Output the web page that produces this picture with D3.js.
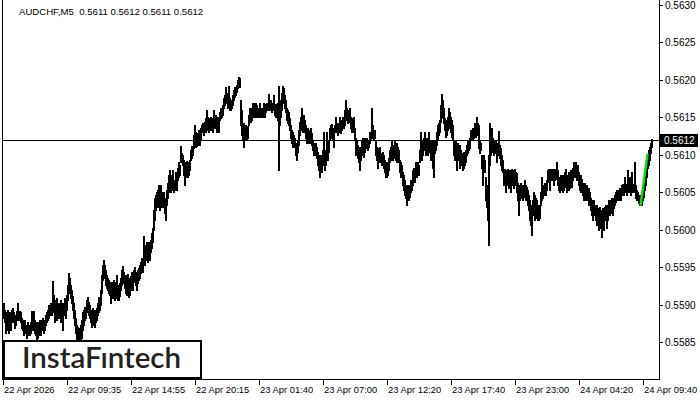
<!DOCTYPE html>
<html>
<head>
<meta charset="utf-8">
<script src="https://d3js.org/d3.v7.min.js"></script>
<style>
body{margin:0;background:#fff;}
svg{display:block;font-family:"Liberation Sans",Arial,sans-serif;}
</style>
</head>
<body>
<div id="chart"></div>
<script>
// Chart values
var symbol = "AUDCHF,M5";
var lastBar = [0.5611, 0.5612, 0.5611, 0.5612]; // open high low close
var bidPrice = 0.5612;
var priceTicks = [0.5585, 0.5590, 0.5595, 0.5600, 0.5605, 0.5610, 0.5615, 0.5620, 0.5625, 0.5630];
var timeLabels = ["22 Apr 2026", "22 Apr 09:35", "22 Apr 14:55", "22 Apr 20:15", "23 Apr 01:40",
	"23 Apr 07:00", "23 Apr 12:20", "23 Apr 17:40", "23 Apr 23:00", "24 Apr 04:20", "24 Apr 09:40"];
var timeLabelBars = [0, 64, 128, 192, 256, 320, 384, 448, 512, 576, 640];

// bar highs / lows, in points (0.00001) above basePrice
var basePrice = 0.5580;
var highs = [
	102,93,90,86,93,86,90,82,93,95, 90,82,86,91,102,91,91,90,82,79,
	77,79,73,73,77,73,72,77,91,82, 91,79,73,77,73,77,79,73,79,82,
	79,77,86,90,93,100,98,102,102,131, 113,106,102,109,102,100,102,106,102,100,
	102,109,102,113,126,142,136,126,119,112, 102,93,82,73,70,66,69,73,79,90,
	93,97,95,106,110,104,100,93,90,95, 90,93,90,95,102,110,106,119,139,153,
	160,153,146,139,136,133,130,126,130,129, 133,126,130,139,126,122,129,136,146,152,
	144,139,139,133,141,136,130,138,144,139, 146,150,144,139,146,149,153,157,162,160,
	191,180,176,183,180,183,178,186,196,202, 226,242,246,250,253,260,250,260,250,246,
	250,242,233,253,262,273,280,266,273,280, 266,266,277,273,282,290,286,312,302,300,
	293,290,286,292,286,290,293,306,312,310, 326,340,330,326,329,333,330,336,340,342,
	340,344,349,360,350,346,349,350,346,349, 360,350,353,346,350,349,357,362,360,366,
	376,380,390,382,380,392,376,369,373,380, 386,390,389,393,400,404,402,373,360,340,
	342,336,340,333,338,353,362,360,362,369, 369,366,369,366,362,360,369,362,360,362,
	369,360,368,369,368,381,369,373,369,369, 380,368,368,366,369,392,360,373,382,392,
	389,380,373,362,360,357,349,340,333,330, 326,322,316,313,320,333,344,350,362,350,
	353,346,340,333,336,330,333,336,329,320, 316,313,316,310,304,300,296,300,293,306,
	330,300,306,330,309,320,336,340,341,336, 333,340,350,342,340,342,350,340,346,350,
	349,360,373,362,360,357,362,350,349,346, 350,336,322,320,313,310,306,310,320,322,
	316,322,320,322,316,320,330,328,362,340, 330,333,320,310,306,309,310,302,300,304,
	300,293,290,286,290,296,306,310,320,310, 313,320,313,316,310,306,293,290,286,277,
	273,266,260,257,260,256,260,266,266,280, 282,277,290,286,290,286,306,330,310,320,
	322,330,320,322,316,330,320,313,320,320, 313,320,316,330,340,342,346,366,381,373,
	362,349,342,346,350,362,357,350,346,340, 320,316,320,313,316,310,313,306,302,300,
	304,300,306,313,320,316,322,333,330,336, 333,342,340,350,342,340,320,316,300,296,
	300,293,270,260,253,300,342,320,336,322, 320,316,320,313,316,332,313,309,300,293,
	280,281,277,280,281,277,280,277,281,280, 273,281,277,276,262,260,256,262,260,257,
	260,266,260,257,253,246,240,233,233,240, 250,246,242,240,233,229,233,250,270,253,
	260,262,260,266,280,281,280,281,281,280, 281,277,281,290,280,270,268,273,270,273,
	270,277,281,273,270,277,273,280,277,282, 290,286,290,282,286,277,270,273,268,262,
	260,262,257,260,253,256,250,242,240,236, 240,233,230,233,229,226,230,226,222,229,
	226,230,233,226,233,240,237,240,242,240, 242,246,250,253,250,253,256,253,260,261,
	260,270,261,260,280,261,270,261,277,260, 261,290,260,253,250,246,242,246,250,260,
	266,273,280,293,300,306,310,316,321,320
];
var lows = [
	82,77,62,66,77,62,73,66,77,82, 77,69,73,79,82,79,82,77,69,66,
	59,66,62,56,59,62,59,62,73,66, 77,62,59,53,56,59,62,59,66,69,
	62,66,73,77,79,82,86,90,86,100, 90,77,86,79,90,82,90,77,86,66,
	90,86,82,93,106,119,116,109,102,93, 82,73,62,53,46,42,46,50,56,66,
	73,79,82,90,93,86,82,77,70,77, 73,70,77,79,86,90,93,100,116,133,
	139,136,126,122,119,116,113,102,113,109, 112,106,109,116,106,106,112,119,126,133,
	129,122,116,113,119,110,113,119,122,119, 130,133,126,119,129,133,136,142,146,144,
	157,153,160,166,157,162,160,170,176,184, 200,213,226,233,230,240,226,233,230,233,
	230,222,213,233,242,250,257,250,253,260, 250,253,256,253,266,270,273,290,290,286,
	273,260,270,277,270,273,280,293,296,300, 309,313,310,312,313,316,313,320,330,330,
	326,333,330,336,333,330,336,333,336,330, 340,336,338,330,340,330,346,349,350,353,
	362,366,373,369,362,369,360,360,362,366, 373,377,380,384,389,393,390,340,326,320,
	310,320,322,320,322,340,346,344,346,353, 350,350,357,350,350,350,353,350,350,350,
	357,350,357,360,360,362,360,362,357,362, 360,353,350,350,346,280,340,350,360,373,
	369,362,357,346,342,340,333,322,316,310, 313,310,300,293,304,313,326,333,336,330,
	336,330,322,316,320,316,316,320,313,306, 300,300,304,296,286,280,270,282,277,286,
	293,280,286,300,293,304,320,322,324,320, 310,330,333,330,326,330,333,329,333,340,
	336,340,346,349,342,344,346,336,330,330, 333,320,300,310,296,290,280,293,300,306,
	297,304,310,309,306,310,316,320,322,322, 320,322,300,293,282,290,296,290,286,290,
	282,277,270,270,273,280,290,293,300,293, 296,300,293,290,296,290,277,270,273,260,
	253,246,242,233,240,240,244,250,253,260, 266,264,273,270,277,273,290,296,293,300,
	306,309,300,306,300,313,304,293,300,282, 270,302,306,313,320,326,330,344,353,349,
	342,333,324,326,333,340,336,330,324,320, 300,293,296,280,300,293,282,293,286,280,
	282,286,290,300,302,306,309,320,320,320, 322,326,324,330,326,309,302,306,282,260,
	280,277,240,230,213,180,286,300,306,304, 300,302,306,290,300,306,296,286,280,277,
	260,264,250,260,266,256,260,250,264,260, 256,264,260,250,240,220,240,242,242,240,
	246,244,240,242,233,226,213,206,193,220, 226,213,220,216,213,213,216,233,240,242,
	246,250,246,253,264,270,253,270,266,270, 260,266,270,268,260,253,250,256,253,250,
	253,257,260,250,256,253,256,260,257,266, 270,273,270,266,270,260,253,250,253,246,
	240,244,240,242,240,233,233,226,220,213, 222,220,213,206,213,200,213,202,190,206,
	200,213,216,202,213,222,220,226,222,220, 229,233,237,240,242,240,242,240,246,250,
	246,250,250,246,253,250,250,246,253,250, 250,253,242,240,240,236,233,233,233,240,
	244,253,260,270,282,286,293,302,310,310
];

// green pattern line
var patternBars = [637, 644];
var patternPrices = [0.56032, 0.56101];

var width = 700, height = 400;
var plotLeft = 3, plotRight = 659, plotBottom = 380;

var svg = d3.select("#chart").append("svg")
	.attr("width", width)
	.attr("height", height)
	.attr("viewBox", "0,0," + width + "," + height);

svg.append("rect").attr("width", width).attr("height", height).attr("fill", "#fff");

var x = d3.scaleLinear().domain([0, 650]).range([plotLeft, plotLeft + 650]);
var y = d3.scaleLinear().domain([0.5585, 0.5630]).range([342, 5]);

function toPrice(p) { return basePrice + p / 100000; }

// frame
svg.append("path")
	.attr("d", "M" + (plotLeft - 0.5) + ",0V" + (plotBottom - 0.5) + "H" + (plotRight + 0.5) + "V0")
	.attr("fill", "none")
	.attr("stroke", "#000")
	.attr("stroke-width", 1)
	.attr("shape-rendering", "crispEdges");

// bars (2px wide so neighbours merge into blocks like the terminal does)
var bars = d3.range(highs.length).map(function (i) {
	return {i: i, h: toPrice(highs[i]), l: toPrice(lows[i])};
});
svg.append("g").selectAll("rect").data(bars).enter().append("rect")
	.attr("x", function (d) { return x(d.i); })
	.attr("y", function (d) { return Math.round(y(d.h)); })
	.attr("width", function (d) { return d.i === highs.length - 1 ? 1 : 2; })
	.attr("height", function (d) { return Math.max(1, Math.round(y(d.l)) - Math.round(y(d.h)) + 1); })
	.attr("fill", "#000")
	.attr("shape-rendering", "crispEdges");

// bid line
svg.append("line")
	.attr("x1", plotLeft).attr("x2", plotRight)
	.attr("y1", Math.round(y(bidPrice)) + 0.5).attr("y2", Math.round(y(bidPrice)) + 0.5)
	.attr("stroke", "#000")
	.attr("shape-rendering", "crispEdges");

// pattern line
svg.append("line")
	.attr("x1", x(patternBars[0]) + 0.5).attr("y1", y(patternPrices[0]))
	.attr("x2", x(patternBars[1]) + 0.5).attr("y2", y(patternPrices[1]))
	.attr("stroke", "#00e600")
	.attr("stroke-width", 2.4);

// price axis
var fmt = d3.format(".4f");
var yAxis = svg.append("g");
priceTicks.forEach(function (p) {
	var py = Math.round(y(p)) + 0.5;
	yAxis.append("line").attr("x1", plotRight).attr("x2", plotRight + 4)
		.attr("y1", py).attr("y2", py).attr("stroke", "#000").attr("shape-rendering", "crispEdges");
	yAxis.append("text").attr("x", plotRight + 6).attr("y", py).attr("dy", "0.35em")
		.attr("font-size", "10px").attr("fill", "#000").text(fmt(p));
});

// bid label
var by = Math.round(y(bidPrice));
svg.append("rect").attr("x", plotRight + 1).attr("y", by - 6).attr("width", 38).attr("height", 13).attr("fill", "#000");
svg.append("text").attr("x", plotRight + 5).attr("y", by + 0.5).attr("dy", "0.35em")
	.attr("font-size", "10px").attr("fill", "#fff").text(fmt(bidPrice));

// time axis
var xAxis = svg.append("g");
timeLabelBars.forEach(function (b, k) {
	var tx = x(b) + 0.5;
	xAxis.append("line").attr("x1", tx).attr("x2", tx).attr("y1", plotBottom).attr("y2", plotBottom + 5)
		.attr("stroke", "#000").attr("shape-rendering", "crispEdges");
	xAxis.append("text").attr("x", tx + 0.5).attr("y", 393)
		.attr("font-size", "9.4px").attr("fill", "#000").text(timeLabels[k]);
});

// title
svg.append("text").attr("x", 19).attr("y", 15)
	.attr("font-size", "9.6px").attr("fill", "#000")
	.attr("xml:space", "preserve")
	.text(symbol + "  " + lastBar.map(fmt).join(" "));

// logo box
svg.append("rect").attr("x", 4).attr("y", 341).attr("width", 197).attr("height", 37)
	.attr("fill", "#fff").attr("stroke", "#000").attr("stroke-width", 2);
svg.append("text").attr("x", 22).attr("y", 368)
	.attr("font-family", "Lato, 'Open Sans', sans-serif")
	.attr("font-size", "28px").attr("font-weight", 600).attr("fill", "#222")
	.attr("textLength", 159).attr("lengthAdjust", "spacingAndGlyphs")
	.text("InstaF\u0131ntech");
</script>
</body>
</html>
